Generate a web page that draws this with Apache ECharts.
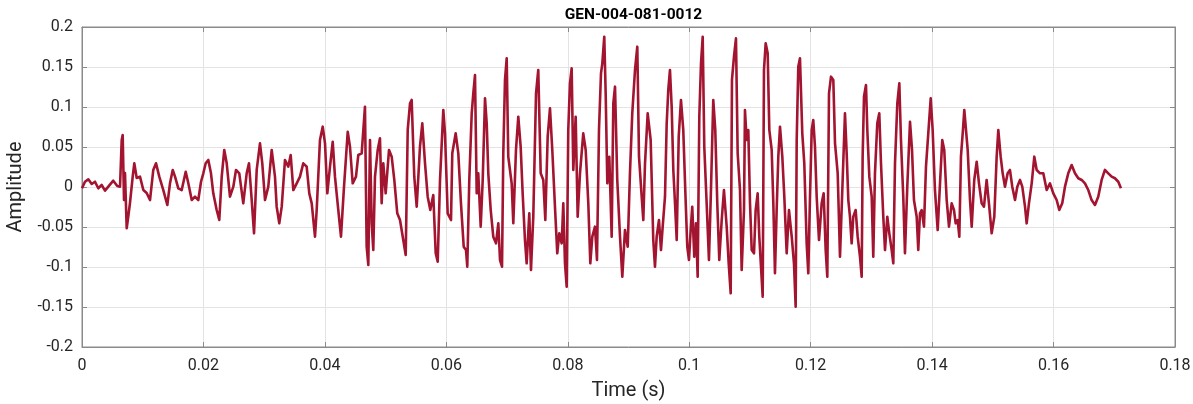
<!DOCTYPE html>
<html>
<head>
<meta charset="utf-8">
<script src="https://cdn.jsdelivr.net/npm/echarts@6/dist/echarts.min.js"></script>
<style>
html,body{margin:0;padding:0;background:#fff;}
#chart{width:1193px;height:404px;}
</style>
</head>
<body>
<div id="chart"></div>
<script>
const chartTitle = 'GEN-004-081-0012';
const xName = 'Time (s)';
const yName = 'Amplitude';
const xTicks = [0, 0.02, 0.04, 0.06, 0.08, 0.1, 0.12, 0.14, 0.16, 0.18];
const yTicks = [-0.2, -0.15, -0.1, -0.05, 0, 0.05, 0.1, 0.15, 0.2];

const time = [
0,0.00049,0.00104,0.0016,0.00214,0.00268,0.00324,0.00379,0.00433,0.00515,0.00581,0.00626,0.00654,0.0067,0.00692,0.00708,0.00736,0.00762,0.0079,0.00835,0.00861,0.00901,0.00955,0.0101,0.01065,0.0112,0.01174,0.01219,0.01273,0.01339,0.01405,0.01449,0.01494,
0.01532,0.01586,0.01642,0.01708,0.01751,0.01807,0.01861,0.01915,0.0196,0.01998,0.02037,0.0208,0.02124,0.02162,0.02218,0.02261,0.02301,0.02343,0.02383,0.02437,0.02492,0.02536,0.0259,0.02656,0.02712,0.0275,0.02795,0.02833,0.02877,0.02931,0.02969,0.03014,0.03068,0.03124,
0.03178,0.03206,0.03249,0.03289,0.03343,0.03397,0.03437,0.0348,0.03536,0.0359,0.03644,0.037,0.03743,0.03783,0.03837,0.03865,0.03919,0.03964,0.04002,0.0404,0.04084,0.04129,0.04166,0.04221,0.04265,0.04315,0.04376,0.04413,0.04458,0.04512,0.0455,0.04606,
0.0466,0.04688,0.04715,0.04743,0.04771,0.04797,0.04825,0.0487,0.04907,0.04935,0.04962,0.05001,0.05056,0.051,0.05143,0.05192,0.05237,0.05291,0.05331,0.05364,0.05402,0.05429,0.05472,0.05512,0.05566,0.05604,0.05649,0.05693,0.05736,0.05785,0.05825,0.05858,0.05896,0.0595,0.05978,0.06022,0.06077,0.06098,0.06154,0.06197,0.06241,0.06286,
0.06324,0.06345,0.06378,0.06418,0.06444,0.06472,0.065,0.06526,0.06566,0.06599,0.06637,0.06665,0.06691,0.06731,0.06773,0.06818,0.06856,0.06884,0.06917,0.06938,0.06966,0.06994,0.0702,0.07076,0.07103,0.07147,0.07185,0.07224,0.07257,0.07295,0.07323,0.07366,0.07394,0.07432,0.07477,0.07514,0.07554,0.07597,0.0763,0.07669,0.07707,0.07745,0.07789,0.07827,0.0786,
0.079,0.07926,0.07954,0.07982,0.08008,0.08036,0.08064,0.08091,0.0813,0.08163,0.08201,0.08255,0.08295,0.08338,0.08371,0.08404,0.08448,0.08481,0.08514,0.08547,0.08569,0.08601,0.08624,0.08651,0.08684,0.08723,0.0875,0.08778,0.08815,0.0886,0.08898,0.08942,0.08987,0.09024,0.09062,0.09107,0.09145,0.09173,0.09217,0.09244,0.09272,0.09316,0.09365,0.09408,0.09436,
0.09464,0.09502,0.09535,0.09563,0.09601,0.09629,0.09655,0.09683,0.09711,0.09738,0.09766,0.09794,0.09827,0.09864,0.09902,0.09935,0.09968,0.09996,0.10024,0.1005,0.10083,0.10111,0.10139,0.10166,0.10194,0.10222,0.10248,0.10287,0.10325,0.10358,0.10396,0.10429,0.10462,0.10495,0.10535,0.10572,0.10617,0.1065,0.10683,0.10704,0.10737,0.1077,0.10798,0.10836,0.10864,0.10902,
0.10918,0.10946,0.10973,0.11001,0.11029,0.11067,0.11094,0.11127,0.11154,0.11182,0.1121,0.11231,0.11259,0.11292,0.11319,0.11358,0.11385,0.11412,0.1144,0.11467,0.11495,0.11533,0.11566,0.11605,0.11643,0.11688,0.11725,0.11753,0.1177,0.11796,0.11824,0.11862,0.11895,0.11934,0.11961,0.11989,0.12017,0.12043,0.12071,0.12099,0.12137,0.12181,0.12214,0.12247,0.12274,0.12302,0.12335,0.12373,0.12401,0.12445,0.12483,0.12521,
0.12565,0.12593,0.1262,0.12647,0.12675,0.12702,0.12741,0.12774,0.12812,0.1284,0.12856,0.12878,0.12911,0.12933,0.12966,0.13005,0.13031,0.13059,0.13097,0.1313,0.13158,0.13196,0.13224,0.13262,0.13295,0.13334,0.13361,0.13389,0.13427,0.1346,0.13487,0.13525,0.13553,0.13591,0.13636,0.13669,0.13701,0.13746,0.13772,0.138,0.13828,0.13866,0.13899,0.13937,0.13977,0.14009,0.14047,0.14092,0.1413,
0.14167,0.142,0.1424,0.14278,0.14322,0.1436,0.14388,0.14421,0.14448,0.14475,0.14508,0.1453,0.14558,0.14586,0.14624,0.14652,0.14694,0.14734,0.14772,0.14816,0.14854,0.14898,0.14936,0.14981,0.15024,0.15063,0.1509,0.15129,0.15162,0.152,0.15244,0.15282,0.1532,0.15365,0.15403,0.15447,0.15485,0.1553,0.15557,0.15595,0.1564,0.15683,
0.15722,0.15777,0.15831,0.15887,0.15941,0.15996,0.16051,0.16094,0.16143,0.16188,0.16242,0.16298,0.16353,0.16407,0.16463,0.16517,0.16572,0.16627,0.16682,0.16736,0.16792,0.16846,0.16901,0.16957,0.17011,0.17066,0.1711
];

const amplitude = [
-0.0016,0.0066,0.0096,0.0038,0.0066,-0.0016,0.0025,-0.0046,0.0004,0.0079,0.0013,0.0004,0.0588,0.065,-0.0163,0.0175,-0.0516,-0.0371,-0.02,0.0129,0.0296,0.0113,0.0129,-0.0038,-0.0075,-0.0163,0.0213,0.0296,0.0129,-0.0038,-0.0225,0.0046,0.0213,
0.0129,-0.0016,-0.0038,0.0191,0.0046,-0.0163,-0.0121,-0.0163,0.0066,0.0171,0.0296,0.0338,0.0171,-0.0079,-0.0288,-0.0413,0.0129,0.0463,0.0296,-0.0121,0.0004,0.0213,0.0171,-0.0204,0.0171,0.0296,-0.0163,-0.0579,0.0213,0.0546,0.0296,-0.0163,0.0004,0.0463,
0.0129,-0.0246,-0.0454,-0.0246,0.0338,0.0254,0.04,-0.0038,0.0046,0.0129,0.0296,0.0254,-0.0079,-0.0204,-0.0621,-0.0288,0.0588,0.0754,0.0546,-0.0079,0.0254,0.0566,0.0129,-0.0288,-0.0621,0.0004,0.0691,0.0504,0.0046,0.0129,0.04,0.0421,
0.1004,-0.0746,-0.0975,0.0588,-0.0454,-0.0788,0.0129,0.0463,0.0609,-0.0204,0.0296,-0.0079,0.0463,0.0379,0.0088,-0.0329,-0.0413,-0.0663,-0.085,0.0713,0.1046,0.1088,0.0129,-0.0246,0.0504,0.0796,0.0296,-0.0121,-0.0288,-0.01,-0.0829,-0.0934,0.0088,0.0963,0.0671,-0.0329,-0.0413,0.0421,0.0671,0.0421,-0.0204,-0.0746,
-0.0788,-0.0996,0.0088,0.0921,0.1171,0.14,-0.0079,0.0171,-0.0496,0.0088,0.1109,0.0796,0.0171,-0.0288,-0.0621,-0.0704,-0.0454,-0.0913,-0.0996,0.0421,0.1338,0.1609,0.0379,0.0046,-0.0454,0.0463,0.0879,0.0504,-0.0079,-0.0663,-0.0954,-0.0329,-0.1038,-0.0371,0.1171,0.1463,0.0171,0.0088,-0.0413,0.0629,0.0984,0.0463,-0.0246,-0.0829,-0.0579,
-0.0704,-0.0204,-0.0954,-0.1246,0.0713,0.1296,0.1484,0.0213,0.0879,-0.0371,0.0171,0.0671,0.0463,-0.0204,-0.0954,-0.0621,-0.0496,-0.0913,0.0713,0.1421,0.1546,0.1879,0.1171,0.0046,0.0379,-0.0621,0.1046,0.1254,0.0088,-0.0621,-0.1121,-0.0538,-0.0746,0.0171,0.0921,0.1463,0.1754,0.0379,-0.0121,-0.0413,0.0296,0.0921,0.0588,-0.0663,-0.0996,
-0.0621,-0.0413,-0.0788,-0.0496,-0.0121,0.0796,0.1213,0.1463,0.1004,0.0213,-0.0204,-0.0663,0.0629,0.1088,0.0713,-0.0038,-0.0746,-0.0913,-0.0538,-0.0246,-0.0871,-0.0454,-0.1121,0.0879,0.1546,0.1879,0.0504,-0.0204,-0.0913,-0.0038,0.1088,0.0713,-0.0204,-0.0913,-0.0413,-0.0038,-0.0496,-0.0954,-0.1329,0.1338,0.1629,0.1859,0.0421,-0.0038,-0.1038,-0.0288,
0.0963,0.0588,0.0713,-0.0204,-0.0788,-0.0829,-0.0288,-0.0079,-0.0621,-0.0996,-0.1371,0.1463,0.1796,0.1671,0.0713,0.0463,-0.0204,-0.1079,-0.0288,0.0379,0.0754,0.0379,-0.0121,-0.0829,-0.0288,-0.0621,-0.0954,-0.1496,0.0588,0.1504,0.1609,0.0671,0.0296,-0.0704,-0.1079,-0.0121,0.0713,0.0838,0.0504,-0.0121,-0.0663,-0.0204,-0.0079,-0.0788,-0.1121,0.1171,0.1379,0.1338,0.0546,0.0171,-0.0871,-0.0038,
0.0921,0.0421,-0.0163,-0.0371,-0.0704,-0.0371,-0.0288,-0.0621,-0.0871,-0.1121,0.0379,0.1129,0.1275,0.0713,0.0129,-0.0121,-0.0871,0.0171,0.0796,0.0921,0.0296,-0.0371,-0.0788,-0.0371,-0.0579,-0.0788,-0.0954,0.0296,0.1046,0.1296,0.0588,-0.0121,-0.0829,0.0004,0.0816,0.0463,-0.0163,-0.0371,-0.0788,-0.0329,-0.0288,-0.0496,0.0254,0.0671,0.1109,0.0713,-0.0038,-0.0538,0.0046,
0.0588,0.0463,-0.0163,-0.0496,-0.0204,-0.0288,-0.0454,-0.0413,-0.0621,0.0379,0.0713,0.0963,0.0963,0.0463,-0.0163,-0.0496,0.0088,0.0316,0.0046,-0.0204,-0.0246,0.0088,-0.0204,-0.0579,-0.0371,0.0379,0.0713,0.0379,0.0171,0.0004,0.0171,0.0213,0.0004,-0.0163,0.0004,0.0088,0.0004,-0.0246,-0.0454,-0.0204,0.0046,0.0379,
0.0213,0.0171,0.0171,-0.0038,0.0046,-0.0079,-0.0163,-0.0288,-0.0204,0.0004,0.0171,0.0275,0.0171,0.0109,0.0088,0.0046,-0.0038,-0.0163,-0.0225,-0.0121,0.0088,0.0213,0.0171,0.0129,0.0109,0.0066,-0.0016
];

const seriesData = time.map((t, i) => [t, amplitude[i]]);

const FONT = 'Roboto, "Liberation Sans", Arial, sans-serif';
const TXT = '#262626';
const AX = '#8a8a8a';
const fmt = v => String(+v.toFixed(4));

const chart = echarts.init(document.getElementById('chart'), null, {renderer: 'canvas'});
chart.setOption({
  animation: false,
  backgroundColor: '#fff',
  title: {
    text: chartTitle,
    left: 628.5, top: 2, textAlign: 'center',
    textStyle: {fontFamily: FONT, fontSize: 15.5, fontWeight: 'bold', color: '#000'}
  },
  grid: {left: 82, right: 18, top: 27, bottom: 57, containLabel: false, outerBoundsMode: 'none',
         show: true, borderColor: AX, borderWidth: 1, backgroundColor: 'transparent'},
  xAxis: [{
    type: 'value', min: xTicks[0], max: xTicks[xTicks.length - 1], interval: 0.02,
    name: xName, nameLocation: 'middle', nameGap: 34,
    nameTextStyle: {fontFamily: FONT, fontSize: 20, color: TXT},
    axisLine: {show: true, onZero: false, lineStyle: {color: AX}},
    axisTick: {show: true, inside: true, length: 5, lineStyle: {color: AX}},
    axisLabel: {fontFamily: FONT, fontSize: 16, color: TXT, margin: 11, formatter: fmt},
    splitLine: {show: true, lineStyle: {color: '#e3e3e3', width: 1}}
  }, {
    type: 'value', position: 'top', min: xTicks[0], max: xTicks[xTicks.length - 1], interval: 0.02,
    axisLine: {show: true, onZero: false, lineStyle: {color: AX}},
    axisTick: {show: true, inside: true, length: 5, lineStyle: {color: AX}},
    axisLabel: {show: false}, splitLine: {show: false}
  }],
  yAxis: [{
    type: 'value', min: yTicks[0], max: yTicks[yTicks.length - 1], interval: 0.05,
    name: yName, nameLocation: 'middle', nameGap: 56, nameRotate: 90,
    nameTextStyle: {fontFamily: FONT, fontSize: 20, color: TXT},
    axisLine: {show: true, onZero: false, lineStyle: {color: AX}},
    axisTick: {show: true, inside: true, length: 5, lineStyle: {color: AX}},
    axisLabel: {fontFamily: FONT, fontSize: 16, color: TXT, margin: 9, formatter: fmt},
    splitLine: {show: true, lineStyle: {color: '#e3e3e3', width: 1}}
  }, {
    type: 'value', position: 'right', min: yTicks[0], max: yTicks[yTicks.length - 1], interval: 0.05,
    axisLine: {show: true, onZero: false, lineStyle: {color: AX}},
    axisTick: {show: true, inside: true, length: 5, lineStyle: {color: AX}},
    axisLabel: {show: false}, splitLine: {show: false}
  }],
  series: [{
    type: 'line',
    data: seriesData,
    xAxisIndex: 0, yAxisIndex: 0,
    showSymbol: false,
    symbol: 'none',
    lineStyle: {color: '#A2142F', width: 2.6, join: 'round'},
    z: 3
  }]
});
</script>
</body>
</html>
